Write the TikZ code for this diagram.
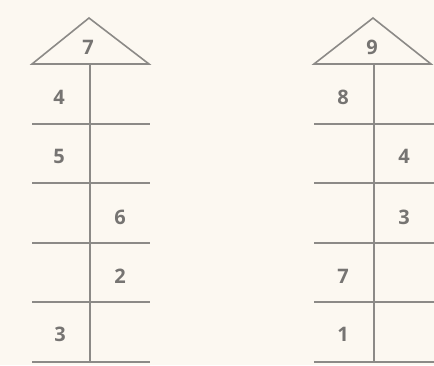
\documentclass[tikz,border=0pt]{standalone}
\usepackage{fontspec}
\setmainfont{Open Sans}
\begin{document}
\begin{tikzpicture}[x=1pt,y=-1pt,
  rule/.style={draw=linegray,line width=1.6pt},
  num/.style={text=numgray,font=\fontsize{20}{20}\selectfont\bfseries,inner sep=0pt}]
\definecolor{linegray}{HTML}{8C8A87}
\definecolor{numgray}{HTML}{767472}
\definecolor{paper}{HTML}{FCF8F1}
\fill[paper] (0,0) rectangle (434,365);
\useasboundingbox (0,0) rectangle (434,365);
% left house
\coordinate (La) at (89,18);
\coordinate (Lbl) at (32,64);
\coordinate (Lbr) at (149,64);
\coordinate (Lt) at (90,64);
\coordinate (Lb) at (90,362);
\draw[rule,line join=miter] (Lbl) -- (La) -- (Lbr) -- cycle;
\draw[rule] (Lt) -- (Lb);
\foreach \y [count=\i] in {124,183,243,302,362}{
  \coordinate (Ll\i) at (32,\y);
  \coordinate (Lr\i) at (150,\y);
  \draw[rule] (Ll\i) -- (Lr\i);
}
\node[num] (L7) at (88,47) {7};
\node[num] (L4) at (59,97) {4};
\node[num] (L5) at (59,156) {5};
\node[num] (L6) at (120,217) {6};
\node[num] (L2) at (120,276) {2};
\node[num] (L3) at (60,334) {3};
% right house
\coordinate (Ra) at (373,18);
\coordinate (Rbl) at (314,64);
\coordinate (Rbr) at (431,64);
\coordinate (Rt) at (374,64);
\coordinate (Rb) at (374,362);
\draw[rule,line join=miter] (Rbl) -- (Ra) -- (Rbr) -- cycle;
\draw[rule] (Rt) -- (Rb);
\foreach \y [count=\i] in {124,183,243,302,362}{
  \coordinate (Rl\i) at (314,\y);
  \coordinate (Rr\i) at (434,\y);
  \draw[rule] (Rl\i) -- (Rr\i);
}
\node[num] (R9) at (372,47) {9};
\node[num] (R8) at (343,97) {8};
\node[num] (R4) at (404,156) {4};
\node[num] (R3) at (404,217) {3};
\node[num] (R7) at (343,276) {7};
\node[num] (R1) at (343,334) {1};
\end{tikzpicture}
\end{document}
